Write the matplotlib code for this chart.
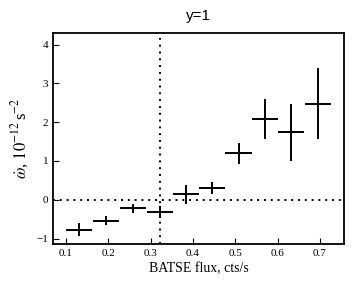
import matplotlib
matplotlib.use("Agg")
from matplotlib import pyplot as plt

plt.rcParams["font.family"] = "Liberation Serif"
plt.rcParams["mathtext.fontset"] = "stix"

flux = [0.131, 0.195, 0.258, 0.322, 0.383, 0.445, 0.508, 0.570, 0.632, 0.695]
flux_err = [0.031] * 10
omega_dot = [-0.77, -0.54, -0.22, -0.31, 0.14, 0.31, 1.20, 2.08, 1.74, 2.48]
omega_err = [0.17, 0.11, 0.12, 0.16, 0.25, 0.16, 0.27, 0.52, 0.74, 0.91]
flux_mark = 0.323

fig = plt.figure(figsize=(3.54, 2.84), dpi=100)
ax = fig.add_axes([0.150, 0.141, 0.822, 0.743])
ax.errorbar(flux, omega_dot, xerr=flux_err, yerr=omega_err, fmt="none",
            ecolor="black", elinewidth=1.4, capsize=0)
ax.axhline(0, color="black", ls=(0, (1, 2.5)), lw=1.4)
ax.axvline(flux_mark, color="black", ls=(0, (1, 2.5)), lw=1.4)
ax.set_xlim(0.07, 0.757)
ax.set_ylim(-1.14, 4.3)
ax.set_xticks([0.1, 0.2, 0.3, 0.4, 0.5, 0.6, 0.7])
ax.set_yticks([-1, 0, 1, 2, 3, 4])
ax.tick_params(direction="in", labelsize=8, length=4, width=0.8)
for s in ax.spines.values():
    s.set_linewidth(1.3)
ax.set_xlabel("BATSE flux, cts/s", fontsize=10, labelpad=3)
ax.set_ylabel(r"$\dot{\omega}$, $10^{-12}\,$s$^{-2}$", fontsize=12, labelpad=4)
ax.set_title("y=1", family="Liberation Sans", fontsize=11, pad=9)
plt.savefig("out.png")
